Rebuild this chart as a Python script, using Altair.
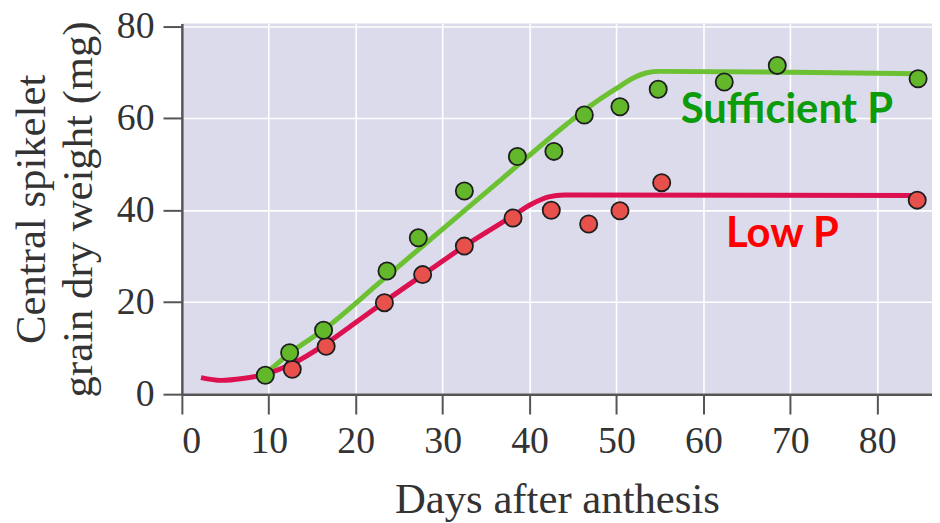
import altair as alt
import pandas as pd

# Data points
suff_days = [9.6, 12.4, 16.3, 23.6, 27.2, 32.5, 38.6, 42.8, 46.3, 50.4, 54.8, 62.4, 68.5, 84.7]
suff_vals = [4.1, 9.0, 13.9, 26.8, 34.0, 44.2, 51.7, 52.8, 60.7, 62.5, 66.3, 67.9, 71.5, 68.6]

low_days = [12.7, 16.6, 23.3, 27.7, 32.5, 38.1, 42.5, 46.8, 50.4, 55.2, 84.6]
low_vals = [5.4, 10.4, 19.9, 26.0, 32.2, 38.3, 40.0, 37.0, 39.9, 46.0, 42.2]

# Fitted curves
suff_line_days = [9.5, 12.5, 16.3, 23.0, 30.0, 37.0, 44.2, 47.0, 50.0, 52.0, 53.5, 55.0, 70.0, 84.7]
suff_line_vals = [4.2, 9.0, 14.0, 24.7, 35.9, 47.1, 58.6, 62.7, 66.5, 68.8, 69.9, 70.2, 70.0, 69.7]

low_line_days = [2.2, 4.5, 7.0, 9.5, 12.7, 16.6, 20.0, 23.3, 28.0, 32.5, 38.1, 40.2, 42.2, 44.0, 84.6]
low_line_vals = [3.6, 3.0, 3.4, 4.3, 6.6, 11.0, 15.6, 20.1, 26.3, 32.2, 38.8, 41.3, 42.9, 43.3, 43.2]

x_ticks = [0, 10, 20, 30, 40, 50, 60, 70, 80]
y_ticks = [0, 20, 40, 60, 80]

suff_pts = pd.DataFrame({"day": suff_days, "w": suff_vals})
low_pts = pd.DataFrame({"day": low_days, "w": low_vals})
suff_ln = pd.DataFrame({"day": suff_line_days, "w": suff_line_vals})
low_ln = pd.DataFrame({"day": low_line_days, "w": low_line_vals})

SERIF = "Liberation Serif"

xscale = alt.Scale(domain=[0, 86.3], nice=False, zero=False)
yscale = alt.Scale(domain=[0, 80.6], nice=False, zero=False)

xaxis = alt.Axis(
    values=x_ticks, title="Days after anthesis", format="d",
    labelFont=SERIF, labelFontSize=38, labelColor="#333", labelPadding=9,
    titleFont=SERIF, titleFontSize=43, titleFontWeight="normal", titleColor="#333",
    titlePadding=18, tickSize=20, tickWidth=2, tickColor="#555",
    domainColor="#555", domainWidth=2.5,
    grid=True, gridColor="white", gridWidth=1.6,
)
yaxis = alt.Axis(
    values=y_ticks, title=["Central spikelet", "grain dry weight (mg)"], format="d",
    labelFont=SERIF, labelFontSize=38, labelColor="#333", labelPadding=9,
    titleFont=SERIF, titleFontSize=43, titleFontWeight="normal", titleColor="#333",
    titlePadding=16, titleLineHeight=47, tickSize=19, tickWidth=2, tickColor="#555",
    domainColor="#555", domainWidth=2.5,
    grid=True, gridColor="white", gridWidth=1.6,
)

X = alt.X("day:Q", scale=xscale, axis=xaxis)
Y = alt.Y("w:Q", scale=yscale, axis=yaxis)
Xn = alt.X("day:Q", scale=xscale)
Yn = alt.Y("w:Q", scale=yscale)

green_line = alt.Chart(suff_ln).mark_line(
    color="#6CC133", strokeWidth=5, interpolate="monotone"
).encode(x=X, y=Y)
red_line = alt.Chart(low_ln).mark_line(
    color="#DD1050", strokeWidth=5, interpolate="monotone"
).encode(x=Xn, y=Yn)

red_pts = alt.Chart(low_pts).mark_point(
    filled=True, fill="#E8504C", stroke="#1e1e1e", strokeWidth=1.8, size=300, opacity=1
).encode(x=Xn, y=Yn)
green_pts = alt.Chart(suff_pts).mark_point(
    filled=True, fill="#62B82A", stroke="#1e1e1e", strokeWidth=1.8, size=300, opacity=1
).encode(x=Xn, y=Yn)

suff_txt = alt.Chart().mark_text(
    text="Sufficient P", font="Lato", fontWeight="bold", fontSize=42,
    color="#0B9B0B", align="left", baseline="alphabetic"
).encode(x=alt.datum(57.4), y=alt.datum(59.0))
low_txt = alt.Chart().mark_text(
    text="Low P", font="Lato", fontWeight="bold", fontSize=42,
    color="#FF0000", align="left", baseline="alphabetic"
).encode(x=alt.datum(62.6), y=alt.datum(32.0))

chart = alt.layer(
    green_line, red_line, red_pts, green_pts, suff_txt, low_txt
).properties(
    width=755, height=373,
    autosize=alt.AutoSizeParams(type="none"),
    padding={"left": 175, "top": 14, "right": 0, "bottom": 128},
    background="white",
).configure_view(
    fill="#DBDBEB", stroke=None
)

chart.save("out.html", embed_options={"renderer": "svg", "actions": False})
